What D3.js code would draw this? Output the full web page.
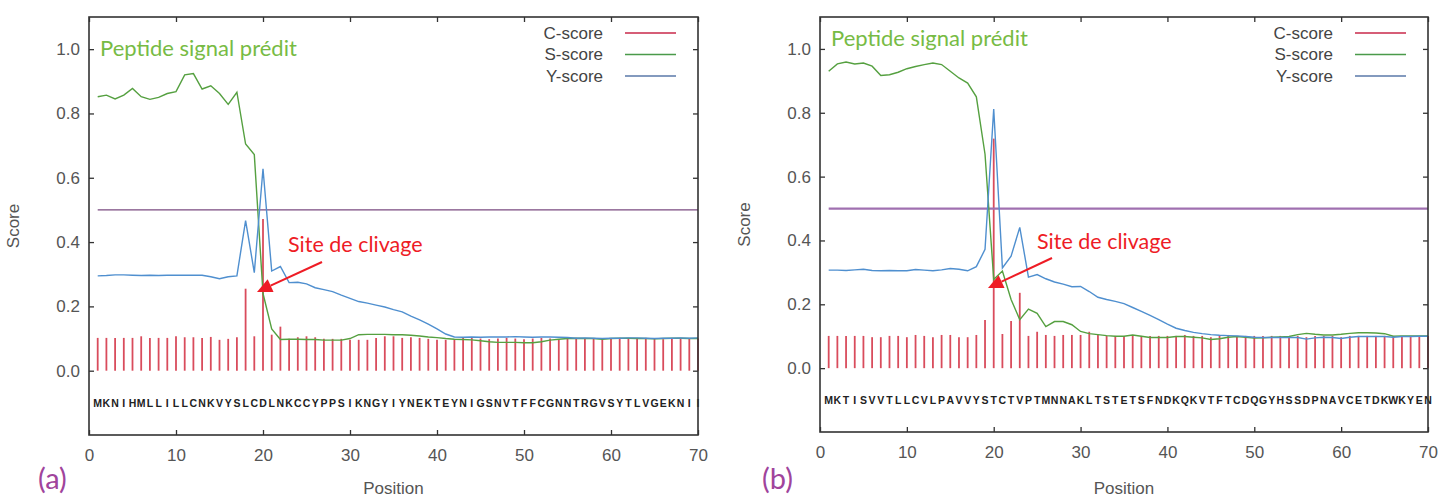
<!DOCTYPE html>
<html>
<head>
<meta charset="utf-8">
<script src="https://cdn.jsdelivr.net/npm/d3@7/dist/d3.min.js"></script>
<style>
  html, body { margin: 0; padding: 0; background: #fff; }
  svg { display: block; }
</style>
</head>
<body>
<svg id="chart" width="1439" height="498"></svg>
<script>
// ---------- DATA ----------
const positions = d3.range(1, 71);
const xTicks = [0, 10, 20, 30, 40, 50, 60, 70];
const yTicks = [0.0, 0.2, 0.4, 0.6, 0.8, 1.0];
const legendLabels = ["C-score", "S-score", "Y-score"];
const threshold = 0.5;

const seqA = "MKNIHMLLILLCNKVYSLCDLNKCCYPPSIKNGYIYNEKTEYNIGSNVTFFCGNNTRGVSYTLVGEKNII".split("");
const cScoreA = [0.102,0.102,0.102,0.102,0.102,0.107,0.102,0.102,0.102,0.107,
                 0.104,0.104,0.102,0.105,0.096,0.099,0.104,0.255,0.107,0.472,
                 0.112,0.137,0.099,0.104,0.107,0.104,0.099,0.099,0.099,0.096,
                 0.096,0.096,0.102,0.107,0.107,0.102,0.104,0.102,0.099,0.096,
                 0.096,0.096,0.102,0.104,0.100,0.098,0.100,0.102,0.100,0.098,
                 0.100,0.102,0.100,0.098,0.100,0.102,0.100,0.101,0.099,0.101,
                 0.102,0.100,0.101,0.102,0.100,0.098,0.101,0.101,0.101,0.100];
const sScoreA = [0.852,0.857,0.845,0.857,0.878,0.852,0.844,0.850,0.862,0.868,
                 0.920,0.924,0.876,0.886,0.862,0.828,0.866,0.705,0.672,0.240,
                 0.130,0.097,0.098,0.098,0.097,0.097,0.095,0.095,0.095,0.100,
                 0.112,0.113,0.113,0.113,0.112,0.112,0.110,0.108,0.105,0.103,
                 0.100,0.098,0.097,0.096,0.093,0.090,0.088,0.088,0.088,0.087,
                 0.087,0.090,0.095,0.098,0.100,0.101,0.100,0.100,0.098,0.100,
                 0.101,0.101,0.100,0.100,0.099,0.100,0.101,0.101,0.100,0.100];
const yScoreA = [0.295,0.296,0.298,0.298,0.297,0.296,0.297,0.296,0.297,0.297,
                 0.297,0.297,0.297,0.292,0.286,0.292,0.295,0.467,0.305,0.628,
                 0.310,0.324,0.274,0.275,0.270,0.258,0.252,0.246,0.235,0.225,
                 0.215,0.210,0.204,0.198,0.190,0.183,0.170,0.158,0.145,0.130,
                 0.114,0.105,0.104,0.105,0.104,0.105,0.105,0.105,0.106,0.105,
                 0.104,0.105,0.105,0.104,0.103,0.101,0.102,0.101,0.100,0.101,
                 0.101,0.102,0.102,0.101,0.100,0.101,0.101,0.102,0.101,0.102];

const seqB = "MKTISVVTLLCVLPAVVYSTCTVPTMNNAKLTSTETSFNDKQKVTFTCDQGYHSSDPNAVCETDKWKYEN".split("");
const cScoreB = [0.101,0.101,0.101,0.101,0.101,0.097,0.097,0.101,0.101,0.097,
                 0.104,0.101,0.097,0.104,0.104,0.097,0.097,0.104,0.151,0.719,
                 0.107,0.148,0.236,0.101,0.114,0.104,0.101,0.104,0.104,0.104,
                 0.114,0.104,0.101,0.101,0.101,0.104,0.101,0.101,0.101,0.101,
                 0.101,0.104,0.101,0.101,0.097,0.101,0.104,0.101,0.101,0.101,
                 0.101,0.101,0.101,0.101,0.101,0.097,0.101,0.101,0.101,0.097,
                 0.101,0.101,0.101,0.101,0.101,0.101,0.101,0.101,0.101,0.101];
const sScoreB = [0.930,0.953,0.959,0.953,0.956,0.946,0.917,0.919,0.927,0.938,
                 0.945,0.951,0.956,0.951,0.930,0.909,0.893,0.850,0.670,0.278,
                 0.304,0.215,0.152,0.185,0.172,0.130,0.146,0.146,0.136,0.115,
                 0.108,0.105,0.102,0.100,0.100,0.104,0.100,0.096,0.096,0.096,
                 0.099,0.099,0.097,0.095,0.090,0.092,0.097,0.099,0.097,0.094,
                 0.095,0.097,0.098,0.099,0.105,0.109,0.106,0.104,0.104,0.106,
                 0.109,0.111,0.111,0.110,0.108,0.100,0.101,0.101,0.101,0.101];
const yScoreB = [0.307,0.307,0.306,0.308,0.310,0.306,0.305,0.306,0.305,0.305,
                 0.309,0.307,0.305,0.308,0.312,0.310,0.305,0.318,0.372,0.812,
                 0.314,0.351,0.441,0.285,0.293,0.280,0.270,0.263,0.255,0.256,
                 0.240,0.222,0.215,0.209,0.202,0.190,0.178,0.165,0.152,0.138,
                 0.125,0.118,0.112,0.108,0.105,0.103,0.102,0.101,0.099,0.097,
                 0.096,0.096,0.096,0.096,0.096,0.091,0.095,0.097,0.096,0.093,
                 0.097,0.099,0.099,0.099,0.099,0.097,0.099,0.099,0.100,0.100];

// ---------- STYLE ----------
const COL_C = "#d94c5c", COL_S = "#55a040", COL_Y = "#4f8fcf";
const COL_LEG = ["#c8284a", "#4a9a4a", "#5a78a8"];
const COL_AXIS = "#333", COL_TXT = "#555";

const svg = d3.select("#chart");

function drawPanel(p) {
  const x = d3.scaleLinear().domain([0, 70]).range([p.x0, p.x1]);
  const y = d3.scaleLinear().domain([-0.2, 1.1]).range([p.y1, p.y0]);
  const g = svg.append("g");

  // C-score bars
  g.selectAll("line.c").data(positions).enter().append("line")
    .attr("x1", d => x(d)).attr("x2", d => x(d))
    .attr("y1", y(0)).attr("y2", (d, i) => y(p.c[i]))
    .attr("stroke", COL_C).attr("stroke-width", 1.8);

  // threshold
  g.append("line")
    .attr("x1", x(1)).attr("x2", x(70))
    .attr("y1", y(threshold)).attr("y2", y(threshold))
    .attr("stroke", p.thrColor).attr("stroke-width", p.thrWidth);

  const line = d3.line().x((d, i) => x(positions[i])).y(d => y(d));
  g.append("path").datum(p.s).attr("d", line)
    .attr("fill", "none").attr("stroke", COL_S).attr("stroke-width", 1.4);
  g.append("path").datum(p.yv).attr("d", line)
    .attr("fill", "none").attr("stroke", COL_Y).attr("stroke-width", 1.4);

  // sequence letters
  g.selectAll("text.seq").data(p.seq).enter().append("text")
    .attr("x", (d, i) => x(positions[i]))
    .attr("y", y(-0.1))
    .attr("dy", "0.35em")
    .attr("text-anchor", "middle")
    .attr("font-family", "Liberation Sans, Arial, sans-serif")
    .attr("font-weight", "bold")
    .attr("font-size", 10.5)
    .attr("fill", "#222")
    .text(d => d);

  // axes (inward ticks)
  const fontAx = "Liberation Sans, Arial, sans-serif";
  const ax = [
    d3.axisLeft(y).tickValues(yTicks).tickFormat(d3.format(".1f")).tickSize(-5).tickPadding(9),
    d3.axisBottom(x).tickValues(xTicks).tickFormat(d3.format("d")).tickSize(-5).tickPadding(14),
    d3.axisRight(y).tickValues(yTicks).tickFormat("").tickSize(-5),
    d3.axisTop(x).tickValues(xTicks).tickFormat("").tickSize(-5)
  ];
  const tr = [`translate(${p.x0},0)`, `translate(0,${p.y1})`, `translate(${p.x1},0)`, `translate(0,${p.y0})`];
  ax.forEach((a, k) => {
    const ag = g.append("g").attr("transform", tr[k]).call(a);
    ag.select(".domain").remove();
    ag.selectAll("line").attr("stroke", COL_AXIS).attr("stroke-width", 1.3);
    ag.selectAll("text").attr("font-family", fontAx).attr("font-size", 17).attr("fill", COL_TXT);
  });
  g.append("rect")
    .attr("x", p.x0).attr("y", p.y0)
    .attr("width", p.x1 - p.x0).attr("height", p.y1 - p.y0)
    .attr("fill", "none").attr("stroke", COL_AXIS).attr("stroke-width", 1.6);

  // axis titles
  g.append("text")
    .attr("x", (p.x0 + p.x1) / 2).attr("y", 494)
    .attr("text-anchor", "middle").attr("font-family", fontAx)
    .attr("font-size", 17).attr("fill", COL_TXT).text("Position");
  g.append("text")
    .attr("transform", `translate(${p.x0 - 70},${(p.y0 + p.y1) / 2}) rotate(-90)`)
    .attr("text-anchor", "middle").attr("font-family", fontAx)
    .attr("font-size", 17).attr("fill", COL_TXT).text("Score");

  // legend
  legendLabels.forEach((lab, k) => {
    const ly = p.y0 + 16 + k * 21.5;
    g.append("text").attr("x", p.x1 - 95).attr("y", ly).attr("dy", "0.35em")
      .attr("text-anchor", "end").attr("font-family", fontAx)
      .attr("font-size", 17).attr("fill", "#444").text(lab);
    g.append("line").attr("x1", p.x1 - 73).attr("x2", p.x1 - 22)
      .attr("y1", ly).attr("y2", ly)
      .attr("stroke", COL_LEG[k]).attr("stroke-width", 1.5);
  });

  // annotations
  const fontAnn = "Lato, 'Open Sans', sans-serif";
  g.append("text").attr("x", p.x0 + 11).attr("y", p.pepY)
    .attr("font-family", fontAnn).attr("font-size", 22).attr("fill", "#77bb44")
    .text("Peptide signal prédit");
  g.append("text").attr("x", p.siteX).attr("y", p.siteY)
    .attr("font-family", fontAnn).attr("font-size", 21.5).attr("fill", "#ee1c25")
    .text("Site de clivage");
  // arrow
  const [ax0, ay0, ax1, ay1] = p.arrow;
  const ang = Math.atan2(ay1 - ay0, ax1 - ax0);
  const hl = 15, hw = 7;
  const bx = ax1 - hl * Math.cos(ang), by = ay1 - hl * Math.sin(ang);
  g.append("line").attr("x1", ax0).attr("y1", ay0).attr("x2", bx).attr("y2", by)
    .attr("stroke", "#ee1c25").attr("stroke-width", 2);
  g.append("path")
    .attr("d", `M${ax1},${ay1}L${bx - hw * Math.sin(ang)},${by + hw * Math.cos(ang)}L${bx + hw * Math.sin(ang)},${by - hw * Math.cos(ang)}Z`)
    .attr("fill", "#ee1c25");

  g.append("text").attr("x", p.labX).attr("y", 489)
    .attr("font-family", fontAnn).attr("font-size", 29).attr("fill", "#a0449c")
    .text(p.label);
}

drawPanel({ x0: 89, x1: 698, y0: 17, y1: 435, c: cScoreA, s: sScoreA, yv: yScoreA, seq: seqA,
  thrColor: "#7a4a80", thrWidth: 1.3, pepY: 56, siteX: 288, siteY: 252,
  arrow: [322, 262, 257, 292], label: "(a)", labX: 38 });
drawPanel({ x0: 820, x1: 1428, y0: 17, y1: 432, c: cScoreB, s: sScoreB, yv: yScoreB, seq: seqB,
  thrColor: "#a070b0", thrWidth: 2.2, pepY: 46, siteX: 1037, siteY: 249,
  arrow: [1052, 258, 988, 288], label: "(b)", labX: 762 });
</script>
</body>
</html>
